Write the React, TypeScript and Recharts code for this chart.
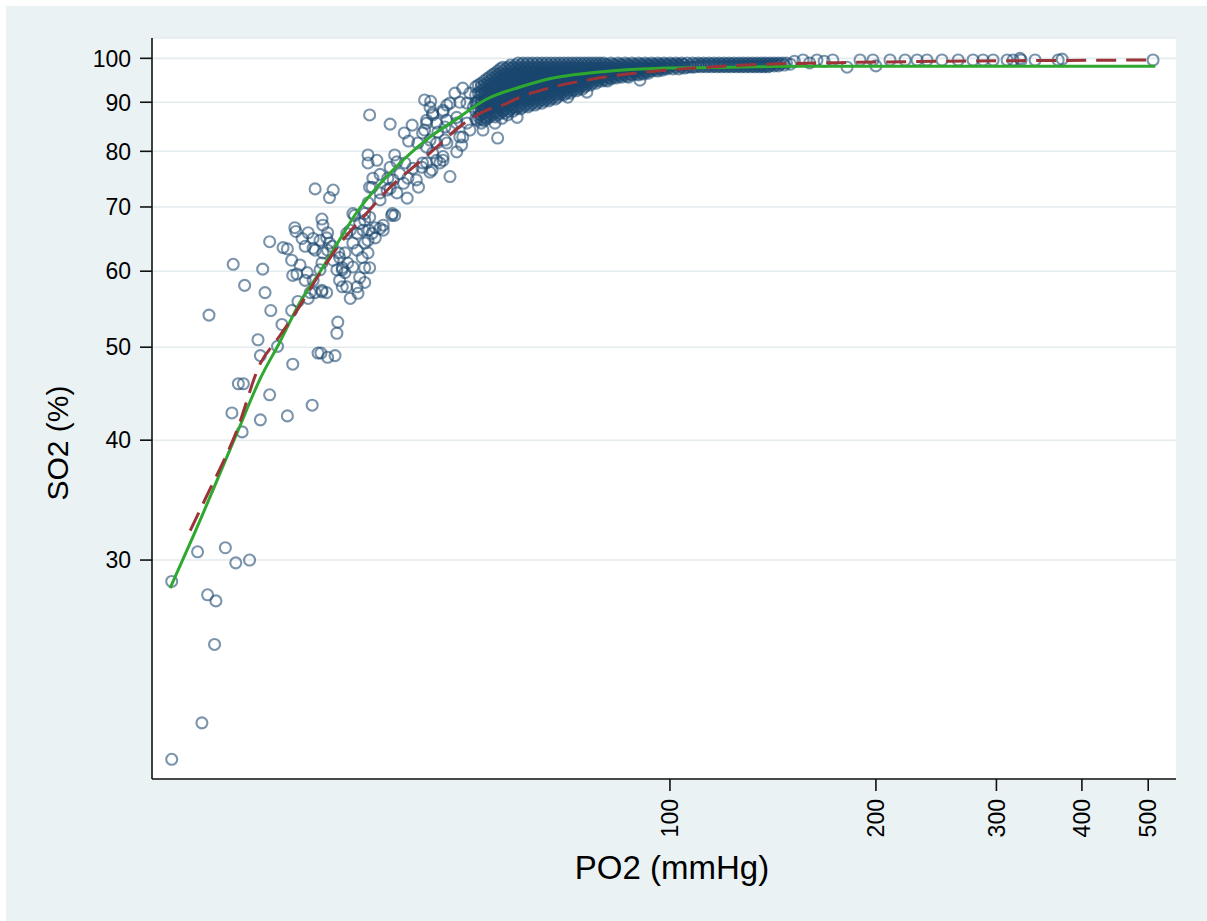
import React from 'react';
import { ScatterChart, Scatter, XAxis, YAxis, CartesianGrid } from 'recharts';

type Pair = [number, number];
type Column = [number, number[]];

const xTicks = [100, 200, 300, 400, 500];
const yTicks = [30, 40, 50, 60, 70, 80, 90, 100];
const xTitle = 'PO2 (mmHg)';
const yTitle = 'SO2 (%)';

const lowTail: Pair[] = [
  [18.7, 28.5], [20.4, 30.6], [22.4, 30.9], [23.2, 29.8], [24.3, 30.0], [21.1, 27.6],
  [21.7, 27.2], [21.6, 24.5], [20.7, 20.3], [18.7, 18.6],
];

const leftSparse: Pair[] = [
  [23.0, 61.0], [21.2, 54.0], [23.9, 58.0], [25.4, 60.3], [25.6, 57.0], [26.1, 54.6],
  [27.1, 52.8], [25.0, 50.9], [26.7, 50.1], [25.2, 49.0], [28.1, 48.0], [23.4, 45.8],
  [23.8, 45.8], [26.0, 44.6], [22.9, 42.7], [25.2, 42.0], [27.6, 42.4], [30.0, 43.5],
  [23.7, 40.8], [26.0, 64.4], [27.2, 63.5],
];

const midCluster: Pair[] = [
  [32.7, 53.1], [32.6, 51.7], [30.6, 49.3], [30.9, 49.3], [31.6, 48.8], [32.4, 49.0],
  [28.0, 54.6], [28.6, 55.8], [29.6, 56.2], [30.3, 57.0], [31.0, 57.1], [31.5, 57.0],
  [28.3, 66.6], [29.6, 65.8], [31.0, 68.0], [31.1, 67.0], [30.1, 64.9], [30.8, 64.6],
  [31.5, 65.0], [32.1, 63.7], [29.0, 64.9], [29.3, 63.7], [30.3, 63.1], [28.0, 61.6],
  [28.8, 60.9], [28.5, 59.6], [29.5, 59.8], [29.3, 58.7], [31.1, 62.7], [31.0, 61.2],
  [32.2, 61.6], [32.9, 62.0], [33.2, 60.5], [32.6, 60.2], [33.5, 59.8], [33.8, 61.2],
  [32.9, 58.7], [33.7, 57.8], [31.0, 57.3], [29.8, 57.0], [34.9, 57.8], [35.2, 59.1],
  [35.8, 60.5], [36.4, 60.5], [35.5, 62.0], [36.2, 62.7], [35.8, 64.2], [34.9, 65.7],
  [36.3, 66.2], [36.7, 65.7], [37.1, 66.6], [37.7, 66.5], [38.1, 67.0], [37.1, 65.0],
  [36.4, 68.3], [35.8, 67.8], [35.2, 67.3], [34.6, 68.6], [34.1, 56.2], [35.0, 56.9],
  [35.8, 58.4], [30.3, 73.1], [32.2, 72.9], [31.8, 71.6], [28.4, 66.0], [27.6, 63.3],
  [31.6, 65.8], [31.8, 64.2], [30.1, 63.4], [31.6, 63.1], [28.1, 59.4], [30.8, 60.2],
  [30.1, 58.7], [33.2, 60.2], [34.4, 60.6], [33.2, 57.8], [34.9, 63.1], [33.7, 65.7],
  [34.4, 64.2], [33.5, 62.7], [32.8, 62.7], [36.2, 64.6], [35.6, 66.2], [34.1, 66.2],
  [34.4, 68.9], [35.8, 68.9], [38.1, 66.2],
];

const upperMid: Pair[] = [
  [39.3, 68.9], [39.6, 68.6], [37.7, 71.2], [36.2, 70.7], [38.6, 72.9], [36.7, 73.4],
  [36.8, 75.0], [37.7, 75.7], [39.6, 79.3], [36.2, 79.3], [37.3, 78.3], [36.2, 77.8],
  [36.4, 87.3], [39.0, 85.4], [40.9, 83.6], [42.0, 85.2], [41.5, 82.0], [42.8, 81.6],
  [43.5, 83.6], [44.1, 85.6], [45.0, 87.3], [44.6, 88.9], [46.6, 88.3], [46.9, 84.8],
  [48.8, 85.6], [49.8, 82.8], [51.0, 84.2], [47.2, 81.6], [45.6, 81.6], [44.1, 80.8],
  [39.9, 78.0], [41.0, 77.8], [39.0, 77.0], [38.7, 75.0], [39.4, 74.7], [40.3, 75.8],
  [41.4, 75.0], [42.6, 74.7], [40.8, 74.1], [42.1, 76.8], [44.1, 77.8], [45.6, 78.3],
  [46.6, 78.3], [43.4, 77.0], [44.6, 76.1], [47.7, 75.3], [39.0, 73.2], [39.9, 72.4],
  [41.3, 71.5], [42.9, 73.4], [36.4, 73.4], [37.7, 72.4], [39.2, 68.6],
];

const nearBand: Pair[] = [
  [49.8, 93.1], [48.5, 92.0], [51.0, 92.0], [51.6, 89.0], [49.3, 90.0], [47.7, 89.8],
  [45.0, 87.7], [46.6, 87.9], [44.1, 86.2], [45.6, 85.6], [47.2, 86.2], [48.8, 86.8],
  [43.8, 84.2], [45.8, 83.8], [48.0, 84.6], [50.5, 85.6], [44.6, 82.2], [46.9, 82.2],
  [49.3, 82.8], [45.0, 79.7], [46.6, 79.0], [48.8, 79.9], [49.6, 81.2], [43.5, 77.8],
  [44.9, 76.5], [46.1, 77.8], [52.8, 87.3], [52.2, 86.2], [53.9, 86.8], [55.5, 85.6],
  [56.8, 86.6], [57.9, 87.3], [59.8, 86.8], [56.0, 82.6], [54.6, 89.8], [53.3, 84.2],
  [57.0, 88.3], [43.8, 90.5], [44.7, 90.2], [47.2, 89.4], [50.5, 89.8], [52.2, 90.0],
  [70.9, 91.1], [75.6, 92.2], [90.4, 94.9],
];

// dense band: [PO2, SO2 values recorded at that PO2]
const denseA: Column[] = [
  [52, [93.4, 91.6, 89.8, 88.1, 86.5]],
  [52.5, [93.8, 92.0, 90.3, 88.6, 86.9]],
  [53, [94.2, 93.4, 92.5, 91.6, 90.7, 89.8, 89.0, 88.1, 87.3, 86.5, 85.6]],
  [53.5, [94.7, 93.8, 92.9, 92.0, 91.1, 90.3, 89.4, 88.6, 87.7, 86.9, 86.1]],
  [54, [95.2, 94.2, 93.4, 92.5, 91.6, 90.7, 89.8, 89.0, 88.1, 87.3, 86.5]],
  [54.5, [95.6, 94.7, 93.8, 92.9, 92.0, 91.1, 90.3, 89.4, 88.6, 87.7, 86.9]],
  [55, [96.1, 95.2, 94.2, 93.4, 92.5, 91.6, 90.7, 89.8, 89.0, 88.1, 87.3]],
  [55.5, [96.5, 95.6, 94.7, 93.8, 92.9, 92.0, 91.1, 90.3, 89.4, 88.6, 87.7, 86.9]],
  [56, [97.0, 96.1, 95.2, 94.2, 93.4, 92.5, 91.6, 90.7, 89.8, 89.0, 88.1, 87.3]],
  [56.5, [97.5, 96.5, 95.6, 94.7, 93.8, 92.9, 92.0, 91.1, 90.3, 89.4, 88.6, 87.7]],
  [57, [97.9, 97.0, 96.1, 95.2, 94.2, 93.4, 92.5, 91.6, 90.7, 89.8, 89.0, 88.1]],
  [57.5, [97.5, 96.5, 95.6, 94.7, 93.8, 92.9, 92.0, 91.1, 90.3, 89.4, 88.6, 87.7]],
  [58, [97.9, 97.0, 96.1, 95.2, 94.2, 93.4, 92.5, 91.6, 90.7, 89.8, 89.0, 88.1]],
  [58.5, [98.4, 97.5, 96.5, 95.6, 94.7, 93.8, 92.9, 92.0, 91.1, 90.3, 89.4, 88.6]],
  [59, [97.9, 97.0, 96.1, 95.2, 94.2, 93.4, 92.5, 91.6, 90.7, 89.8, 89.0, 88.1]],
  [59.5, [98.4, 97.5, 96.5, 95.6, 94.7, 93.8, 92.9, 92.0, 91.1, 90.3, 89.4, 88.6]],
  [60, [98.9, 97.9, 97.0, 96.1, 95.2, 94.2, 93.4, 92.5, 91.6, 90.7, 89.8, 89.0]],
  [60.5, [98.4, 97.5, 96.5, 95.6, 94.7, 93.8, 92.9, 92.0, 91.1, 90.3, 89.4, 88.6]],
  [61, [98.9, 97.9, 97.0, 96.1, 95.2, 94.2, 93.4, 92.5, 91.6, 90.7, 89.8, 89.0]],
  [61.5, [98.4, 97.5, 96.5, 95.6, 94.7, 93.8, 92.9, 92.0, 91.1, 90.3, 89.4]],
];

const denseB: Column[] = [
  [62, [98.9, 97.9, 97.0, 96.1, 95.2, 94.2, 93.4, 92.5, 91.6, 90.7, 89.8, 89.0]],
  [62.5, [98.4, 97.5, 96.5, 95.6, 94.7, 93.8, 92.9, 92.0, 91.1, 90.3, 89.4]],
  [63, [98.9, 97.9, 97.0, 96.1, 95.2, 94.2, 93.4, 92.5, 91.6, 90.7, 89.8]],
  [63.5, [98.4, 97.5, 96.5, 95.6, 94.7, 93.8, 92.9, 92.0, 91.1, 90.3, 89.4]],
  [64, [98.9, 97.9, 97.0, 96.1, 95.2, 94.2, 93.4, 92.5, 91.6, 90.7, 89.8]],
  [64.5, [98.4, 97.5, 96.5, 95.6, 94.7, 93.8, 92.9, 92.0, 91.1, 90.3]],
  [65, [98.9, 97.9, 97.0, 96.1, 95.2, 94.2, 93.4, 92.5, 91.6, 90.7, 89.8]],
  [65.5, [98.4, 97.5, 96.5, 95.6, 94.7, 93.8, 92.9, 92.0, 91.1, 90.3]],
  [66, [98.9, 97.9, 97.0, 96.1, 95.2, 94.2, 93.4, 92.5, 91.6, 90.7]],
  [66.5, [98.4, 97.5, 96.5, 95.6, 94.7, 93.8, 92.9, 92.0, 91.1, 90.3]],
  [67, [98.9, 97.9, 97.0, 96.1, 95.2, 94.2, 93.4, 92.5, 91.6, 90.7]],
  [67.5, [98.4, 97.5, 96.5, 95.6, 94.7, 93.8, 92.9, 92.0, 91.1]],
  [68, [98.9, 97.9, 97.0, 96.1, 95.2, 94.2, 93.4, 92.5, 91.6, 90.7]],
  [68.5, [98.4, 97.5, 96.5, 95.6, 94.7, 93.8, 92.9, 92.0, 91.1]],
  [69, [98.9, 97.9, 97.0, 96.1, 95.2, 94.2, 93.4, 92.5, 91.6]],
  [69.5, [98.4, 97.5, 96.5, 95.6, 94.7, 93.8, 92.9, 92.0]],
  [70, [98.9, 97.9, 97.0, 96.1, 95.2, 94.2, 93.4, 92.5, 91.6]],
  [70.5, [98.4, 97.5, 96.5, 95.6, 94.7, 93.8, 92.9, 92.0]],
  [71, [98.9, 97.9, 97.0, 96.1, 95.2, 94.2, 93.4, 92.5]],
  [71.5, [98.4, 97.5, 96.5, 95.6, 94.7, 93.8, 92.9, 92.0]],
];

const denseC: Column[] = [
  [72, [98.9, 97.9, 97.0, 96.1, 95.2, 94.2, 93.4, 92.5]],
  [72.5, [98.4, 97.5, 96.5, 95.6, 94.7, 93.8, 92.9]],
  [73, [98.9, 97.9, 97.0, 96.1, 95.2, 94.2, 93.4, 92.5]],
  [73.5, [98.4, 97.5, 96.5, 95.6, 94.7, 93.8, 92.9]],
  [74, [98.9, 97.9, 97.0, 96.1, 95.2, 94.2, 93.4]],
  [74.5, [98.4, 97.5, 96.5, 95.6, 94.7, 93.8, 92.9]],
  [75, [98.9, 97.9, 97.0, 96.1, 95.2, 94.2, 93.4]],
  [75.5, [98.4, 97.5, 96.5, 95.6, 94.7, 93.8]],
  [76, [98.9, 97.9, 97.0, 96.1, 95.2, 94.2]],
  [76.5, [98.4, 97.5, 96.5, 95.6, 94.7, 93.8]],
  [77, [98.9, 97.9, 97.0, 96.1, 95.2, 94.2]],
  [77.5, [98.4, 97.5, 96.5, 95.6, 94.7]],
  [78, [98.9, 97.9, 97.0, 96.1, 95.2, 94.2]],
  [78.5, [98.4, 97.5, 96.5, 95.6, 94.7]],
  [79, [98.9, 97.9, 97.0, 96.1, 95.2]],
  [79.5, [98.4, 97.5, 96.5, 95.6, 94.7]],
  [80, [98.9, 97.9, 97.0, 96.1, 95.2]],
];

const denseD: Column[] = [
  [80.5, [98.6, 97.7, 96.8, 95.8, 94.9]],
  [81, [98.4, 97.5, 96.5, 95.6, 94.7]],
  [81.5, [98.2, 97.2, 96.3, 95.4]],
  [82, [98.9, 97.9, 97.0, 96.1, 95.2]],
  [82.5, [98.6, 97.7, 96.8, 95.8]],
  [83, [98.4, 97.5, 96.5, 95.6]],
  [83.5, [98.2, 97.2, 96.3, 95.4]],
  [84, [98.9, 97.9, 97.0, 96.1]],
  [84.5, [98.6, 97.7, 96.8, 95.8]],
  [85, [98.4, 97.5, 96.5, 95.6]],
  [85.5, [98.2, 97.2, 96.3]],
  [86, [98.9, 97.9, 97.0, 96.1]],
  [86.5, [98.6, 97.7, 96.8, 95.8]],
  [87, [98.4, 97.5, 96.5, 95.6]],
  [87.5, [98.2, 97.2, 96.3]],
  [88, [98.9, 97.9, 97.0, 96.1]],
  [88.5, [98.6, 97.7, 96.8]],
  [89, [98.4, 97.5, 96.5]],
  [89.5, [98.2, 97.2, 96.3]],
  [90, [98.9, 97.9, 97.0, 96.1]],
  [90.5, [98.6, 97.7, 96.8]],
  [91, [98.4, 97.5, 96.5]],
  [91.5, [98.2, 97.2, 96.3]],
  [92, [98.9, 97.9, 97.0]],
  [92.5, [98.6, 97.7, 96.8]],
  [93, [98.4, 97.5, 96.5]],
  [93.5, [98.2, 97.2]],
  [94, [98.9, 97.9, 97.0]],
  [94.5, [98.6, 97.7]],
  [95, [98.4, 97.5]],
  [95.5, [98.2, 97.2]],
  [96, [98.9, 97.9, 97.0]],
  [96.5, [98.6, 97.7]],
  [97, [98.4, 97.5]],
  [97.5, [98.2, 97.2]],
  [98, [98.9, 97.9]],
  [98.5, [98.6, 97.7]],
  [99, [98.4, 97.5]],
  [99.5, [98.2]],
  [100, [98.9, 97.9]],
];

const denseE: Column[] = [
  [100.5, [98.6]], [101, [98.4, 97.5]], [101.5, [98.2]], [102, [98.9, 97.9]], [102.5, [98.6]],
  [103, [98.4, 97.5]], [103.5, [98.2]], [104, [98.9, 97.9]], [104.5, [98.6]], [105, [98.4, 97.7]],
  [106, [98.9, 97.9]], [107, [98.4, 98.0]], [108, [98.9, 97.9]], [109, [98.6, 98.0]],
  [110, [98.9, 98.2]], [111, [98.6, 98.0]], [112, [98.9, 98.2]], [113, [98.6, 98.0]],
  [114, [98.9, 98.2]], [115, [98.6, 98.0]], [116, [98.9, 98.2]], [117, [98.6, 98.0]],
  [118, [98.9, 98.2]], [119, [98.6, 98.0]], [120, [98.9, 98.2]], [121, [98.6, 98.0]],
  [122, [98.9, 98.2]], [123, [98.6, 98.0]], [124, [98.9, 98.2]], [125, [98.6, 98.0]],
  [126, [98.9, 98.2]], [127, [98.6, 98.0]], [128, [98.9, 98.2]], [129, [98.6, 98.0]],
  [130, [98.9, 98.2]], [131, [98.6, 98.0]], [132, [98.9, 98.2]], [133, [98.6, 98.0]],
  [134, [98.9, 98.2]], [135, [98.6, 98.0]], [136, [98.9, 98.2]], [137, [98.6, 98.0]],
  [138, [98.9, 98.2]], [139, [98.6, 98.0]], [140, [98.9, 98.2]], [141, [98.6]],
  [142, [98.9, 98.2]], [143, [98.6]], [144, [98.9, 98.2]], [145, [98.6]], [146, [98.9]],
  [147, [98.4]], [148, [98.9]], [150, [98.6]],
];

const highSparse: Pair[] = [
  [152, 99.3], [156.5, 99.6], [160, 98.9], [164, 99.6], [168, 99.3], [173, 99.6],
  [181.5, 97.9], [189.6, 99.6], [198, 99.6], [200, 98.2], [209.7, 99.6], [220.6, 99.6],
  [229.7, 99.6], [237.5, 99.6], [249.8, 99.6], [263.8, 99.6], [277.3, 99.6], [286.8, 99.6],
  [296.7, 99.6], [311, 99.6], [317.3, 99.6], [324.8, 100], [326, 99.6], [341.7, 99.6],
  [369.3, 99.6], [374.3, 99.8], [508.2, 99.6],
];

// fitted curves
const greenFit: Pair[] = [
  [18.6, 28.05], [20.0, 31.5], [23.3, 40.7], [25.2, 46.4], [26.9, 50.6], [28.8, 55.7],
  [30.8, 59.9], [32.9, 64.7], [34.9, 69.2], [37.7, 74.0], [40.7, 78.3], [44.6, 82.8],
  [48.5, 86.2], [54.0, 90.7], [60.4, 93.35], [67.5, 95.4], [75.6, 96.5], [84.5, 97.2],
  [99, 97.7], [123.6, 97.9], [155, 98.1], [512, 98.1],
];

const redDashed: Pair[] = [
  [19.9, 32.2], [20.9, 34.65], [23.3, 41.0], [25.2, 48.1], [26.6, 50.8], [28.1, 53.75],
  [30.8, 59.7], [33.0, 64.2], [36.4, 69.5], [39.0, 73.4], [41.7, 76.5], [45.6, 80.8],
  [49.0, 84.6], [54.0, 88.3], [57.0, 89.4], [60.4, 91.1], [67.5, 93.35], [75.6, 94.9],
  [84.5, 96.1], [99, 97.2], [110.6, 97.8], [138.6, 98.6], [173, 98.95], [503, 99.6],
];

const pairsToRows = (arr: Pair[]) => arr.map(([p, s]) => ({ po2: p, so2: s }));
const colsToRows = (cols: Column[]) =>
  cols.flatMap(([p, list]) => list.map((s) => ({ po2: p, so2: s })));

const points = [
  ...pairsToRows(lowTail),
  ...pairsToRows(leftSparse),
  ...pairsToRows(midCluster),
  ...pairsToRows(upperMid),
  ...pairsToRows(nearBand),
  ...colsToRows(denseA),
  ...colsToRows(denseB),
  ...colsToRows(denseC),
  ...colsToRows(denseD),
  ...colsToRows(denseE),
  ...pairsToRows(highSparse),
];

const FONT = '"Liberation Sans", Arial, Helvetica, sans-serif';

const XTick = (props: any) => {
  const { x, y, payload } = props;
  return (
    <text
      transform={`translate(${x},${y}) rotate(-90)`}
      textAnchor="end"
      dy="0.36em"
      fontSize={23}
      fontFamily={FONT}
      fill="#000"
    >
      {payload.value}
    </text>
  );
};

const YTick = (props: any) => {
  const { x, y, payload } = props;
  return (
    <text x={x} y={y} dy="0.36em" textAnchor="end" fontSize={23} fontFamily={FONT} fill="#000">
      {payload.value}
    </text>
  );
};

const Ring = (props: any) => {
  const { cx, cy } = props;
  if (cx == null || cy == null) return <g />;
  return (
    <circle cx={cx} cy={cy} r={5.5} fill="none" stroke="#1a476f" strokeOpacity={0.58} strokeWidth={2.1} />
  );
};

const NoShape = () => <g />;

export default function App() {
  return (
    <div
      style={{
        position: 'absolute',
        left: 0,
        top: 0,
        width: 1207,
        height: 921,
        background: '#ffffff',
        overflow: 'hidden',
      }}
    >
      <div
        style={{ position: 'absolute', left: 6, top: 6, width: 1201, height: 915, background: '#eaf2f3' }}
      />
      <div style={{ position: 'absolute', left: 0, top: 0 }}>
        <ScatterChart width={1207} height={921} margin={{ top: 38, right: 31, bottom: 62, left: 72 }}>
          <CartesianGrid vertical={false} stroke="#e3ebee" strokeWidth={1.6} fill="#ffffff" fillOpacity={1} />
          <XAxis
            dataKey="po2"
            type="number"
            scale="log"
            domain={[17.5, 549]}
            allowDataOverflow
            ticks={xTicks}
            interval={0}
            height={80}
            tickSize={12}
            tickMargin={8}
            axisLine={{ stroke: '#111', strokeWidth: 1.6 }}
            tickLine={{ stroke: '#111', strokeWidth: 1.6 }}
            tick={(p: any) => <XTick {...p} />}
          />
          <YAxis
            dataKey="so2"
            type="number"
            scale="log"
            domain={[17.74, 105]}
            allowDataOverflow
            ticks={yTicks}
            interval={0}
            width={80}
            tickSize={12}
            tickMargin={9}
            axisLine={{ stroke: '#111', strokeWidth: 1.6 }}
            tickLine={{ stroke: '#111', strokeWidth: 1.6 }}
            tick={(p: any) => <YTick {...p} />}
          />
          <Scatter data={points} shape={(p: any) => <Ring {...p} />} isAnimationActive={false} />
          <Scatter
            data={pairsToRows(greenFit)}
            shape={NoShape}
            line={{ stroke: '#2ea82e', strokeWidth: 3 }}
            lineJointType="monotoneX"
            isAnimationActive={false}
          />
          <Scatter
            data={pairsToRows(redDashed)}
            shape={NoShape}
            line={{ stroke: '#9b3338', strokeWidth: 3, strokeDasharray: '20 10' }}
            lineJointType="monotoneX"
            isAnimationActive={false}
          />
        </ScatterChart>
      </div>
      <svg
        width={1207}
        height={921}
        style={{ position: 'absolute', left: 0, top: 0, pointerEvents: 'none' }}
      >
        <text x={672} y={879} textAnchor="middle" fontSize={33} fontFamily={FONT} fill="#000">
          {xTitle}
        </text>
        <text
          transform="translate(68,443) rotate(-90)"
          textAnchor="middle"
          fontSize={30}
          fontFamily={FONT}
          fill="#000"
        >
          {yTitle}
        </text>
      </svg>
    </div>
  );
}
